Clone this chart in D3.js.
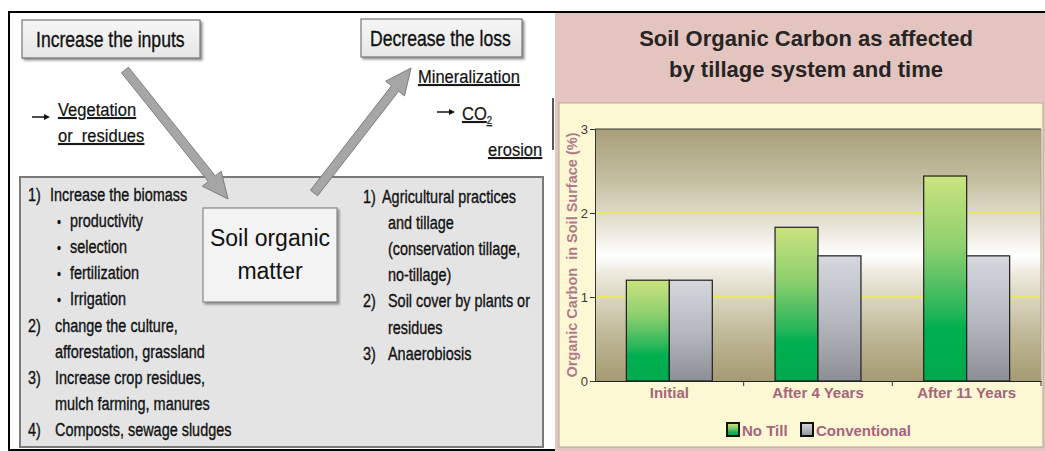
<!DOCTYPE html>
<html>
<head>
<meta charset="utf-8">
<script src="https://cdn.jsdelivr.net/npm/d3@7"></script>
<style>
  body { margin: 0; background: #ffffff; }
  svg { display: block; }
  text { font-family: "Liberation Sans", Arial, sans-serif; }
</style>
</head>
<body>
<script>
// bar chart values
var categories = ["Initial", "After 4 Years", "After 11 Years"];
var seriesNames = ["No Till", "Conventional"];
var noTill = [1.2, 1.83, 2.44];
var conventional = [1.2, 1.49, 1.49];
var yTicks = [0, 1, 2, 3];
var chartTitle = ["Soil Organic Carbon as affected", "by tillage system and time"];
var yTitle = "Organic Carbon  in Soil Surface (%)";

// diagram texts
var inputList = [
  ["1)", "Increase the biomass"],
  ["•", "productivity"],
  ["•", "selection"],
  ["•", "fertilization"],
  ["•", "Irrigation"],
  ["2)", "change the culture,"],
  ["", "afforestation, grassland"],
  ["3)", "Increase crop residues,"],
  ["", "mulch farming, manures"],
  ["4)", "Composts, sewage sludges"]
];
var lossList = [
  ["1)", "Agricultural practices"],
  ["", "and tillage"],
  ["", "(conservation tillage,"],
  ["", "no-tillage)"],
  ["2)", "Soil cover by plants or"],
  ["", "residues"],
  ["3)", "Anaerobiosis"]
];

var w = 1045
var h = 451
var plot = {left: 595, right: 1041, top: 129, bottom: 381}

var svg = d3.select("body")
            .append("svg")
            .attr("width", w)
            .attr("height", h)

var defs = svg.append("defs")

function gradient(id, stops) {
  var g = defs.append("linearGradient")
              .attr("id", id)
              .attr("x1", 0).attr("y1", 0)
              .attr("x2", 0).attr("y2", 1)
  stops.forEach(function(s) {
    g.append("stop").attr("offset", s[0]).attr("stop-color", s[1])
  })
}

gradient("plotbg", [[0, "#a79f78"], [0.2, "#c4bea0"], [0.42, "#eeece2"], [0.5, "#ffffff"],
                    [0.58, "#ebe8dc"], [0.8, "#c2bb9a"], [1, "#a49b72"]])
gradient("green", [[0, "#cbe37e"], [0.35, "#8dcf6e"], [0.68, "#20b458"], [0.74, "#00b050"], [1, "#00aa4c"]])
gradient("gray", [[0, "#d6d8de"], [0.5, "#b7b9c1"], [1, "#8d8f97"]])
gradient("boxfill", [[0, "#f6f6f6"], [1, "#e6e6e6"]])

var shadow = defs.append("filter").attr("id", "shadow")
                 .attr("x", "-10%").attr("y", "-10%").attr("width", "130%").attr("height", "140%")
shadow.append("feDropShadow").attr("dx", 2).attr("dy", 2)
      .attr("stdDeviation", 1.2).attr("flood-color", "#666").attr("flood-opacity", 0.7)

drawDiagram()
drawChart()

function arrowPath(x1, y1, x2, y2, shaft, head, headLen) {
  /* thick block arrow from (x1,y1) with its tip at (x2,y2) */
  var dx = x2 - x1, dy = y2 - y1
  var len = Math.sqrt(dx * dx + dy * dy)
  var ux = dx / len, uy = dy / len
  var px = -uy, py = ux
  var bx = x2 - ux * headLen, by = y2 - uy * headLen
  var pts = [
    [x1 + px * shaft / 2, y1 + py * shaft / 2],
    [bx + px * shaft / 2, by + py * shaft / 2],
    [bx + px * head / 2, by + py * head / 2],
    [x2, y2],
    [bx - px * head / 2, by - py * head / 2],
    [bx - px * shaft / 2, by - py * shaft / 2],
    [x1 - px * shaft / 2, y1 - py * shaft / 2]
  ]
  return "M" + pts.map(function(p) { return p[0].toFixed(1) + "," + p[1].toFixed(1) }).join("L") + "Z"
}

function narrowText(g, x, y, txt, size, sx) {
  /* condensed looking text: normal font squeezed horizontally */
  return g.append("text")
          .attr("transform", "translate(" + x + "," + y + ") scale(" + sx + ",1)")
          .style("font-size", size + "px")
          .attr("fill", "#111")
          .attr("stroke", "#111")
          .attr("stroke-width", 0.35)
          .text(txt)
}

function drawDiagram() {
  var g = svg.append("g")

  // frame lines
  g.append("line").attr("x1", 8).attr("x2", w).attr("y1", 12).attr("y2", 12)
   .attr("stroke", "#000").attr("stroke-width", 2)
  g.append("line").attr("x1", 9).attr("x2", 9).attr("y1", 12).attr("y2", h)
   .attr("stroke", "#000").attr("stroke-width", 2)
  g.append("line").attr("x1", 8).attr("x2", 555).attr("y1", 450).attr("y2", 450)
   .attr("stroke", "#000").attr("stroke-width", 2)
  g.append("line").attr("x1", 553).attr("x2", 553).attr("y1", 98).attr("y2", 150)
   .attr("stroke", "#222").attr("stroke-width", 1.5)

  // big gray box
  g.append("rect").attr("x", 20).attr("y", 177).attr("width", 523).attr("height", 270)
   .attr("fill", "#e4e4e4").attr("stroke", "#7a7a7a").attr("stroke-width", 2)

  // header boxes
  var heads = [
    {x: 22, y: 20, w: 178, h: 38, t: "Increase the inputs", tx: 36},
    {x: 361, y: 19, w: 161, h: 38, t: "Decrease the loss", tx: 370}
  ]
  heads.forEach(function(b) {
    g.append("rect").attr("x", b.x).attr("y", b.y).attr("width", b.w).attr("height", b.h)
     .attr("fill", "url(#boxfill)").attr("stroke", "#777").attr("stroke-width", 1.2)
     .attr("filter", "url(#shadow)")
    narrowText(g, b.tx, b.y + 27, b.t, 22, 0.8)
  })

  // block arrows
  g.append("path").attr("d", arrowPath(125, 70, 228, 199, 9, 24, 26))
   .attr("fill", "#a6a6a6").attr("stroke", "#7d7d7d").attr("stroke-width", 1)
  g.append("path").attr("d", arrowPath(314, 193, 411, 68, 9, 24, 26))
   .attr("fill", "#a6a6a6").attr("stroke", "#7d7d7d").attr("stroke-width", 1)

  // soil organic matter box
  g.append("rect").attr("x", 203).attr("y", 208).attr("width", 134).attr("height", 94)
   .attr("fill", "#f3f3f3").attr("stroke", "#888").attr("stroke-width", 1.2)
   .attr("filter", "url(#shadow)")
  g.append("text").attr("x", 270).attr("y", 246).attr("text-anchor", "middle")
   .style("font-size", "23px").attr("fill", "#111").text("Soil organic")
  g.append("text").attr("x", 270).attr("y", 279).attr("text-anchor", "middle")
   .style("font-size", "23px").attr("fill", "#111").text("matter")

  // side notes
  function smallArrow(x1, x2, y) {
    g.append("line").attr("x1", x1).attr("x2", x2 - 4).attr("y1", y).attr("y2", y)
     .attr("stroke", "#111").attr("stroke-width", 1.5)
    g.append("path").attr("d", "M" + (x2 - 6) + "," + (y - 3) + "L" + x2 + "," + y + "L" + (x2 - 6) + "," + (y + 3) + "Z")
     .attr("fill", "#111")
  }
  smallArrow(32, 50, 117)
  smallArrow(437, 455, 112)

  var notes = [
    {x: 58, y: 116, t: "Vegetation"},
    {x: 58, y: 142, t: "or  residues"},
    {x: 418, y: 83, t: "Mineralization"},
    {x: 488, y: 156, t: "erosion"}
  ]
  notes.forEach(function(n) {
    narrowText(g, n.x, n.y, n.t, 19, 0.87)
      .attr("stroke-width", 0.2)
      .style("text-decoration", "underline")
      .style("white-space", "pre")
  })
  var co2 = narrowText(g, 462, 120, "", 19, 0.87).attr("stroke-width", 0.2)
              .style("text-decoration", "underline")
  co2.append("tspan").text("CO")
  co2.append("tspan").attr("dy", 4).style("font-size", "11px").text("2")

  // left list
  inputList.forEach(function(d, i) {
    var y = 201 + i * 26.1
    var bullet = d[0] === "•"
    if (d[0] !== "") {
      narrowText(g, bullet ? 57 : 28, y, d[0], bullet ? 15 : 19, 0.76)
    }
    var tx = bullet ? 70 : (i === 0 ? 50 : 55)
    narrowText(g, tx, y, d[1], 19, 0.76)
  })

  // right list
  lossList.forEach(function(d, i) {
    var y = 203 + i * 26.1
    if (d[0] !== "") {
      narrowText(g, 363, y, d[0], 19, 0.76)
    }
    narrowText(g, i === 0 ? 382 : 388, y, d[1], 19, 0.76)
  })
}

function drawChart() {
  var g = svg.append("g")

  // panel backgrounds
  g.append("rect").attr("x", 555).attr("y", 13).attr("width", w - 555).attr("height", h - 13)
   .attr("fill", "#e4c4be")
  g.append("rect").attr("x", 559).attr("y", 103).attr("width", w - 561).attr("height", 344)
   .attr("fill", "#fdf8d4").attr("stroke", "#b8a49a").attr("stroke-width", 1)

  // title
  g.selectAll(".title")
   .data(chartTitle)
   .enter()
   .append("text")
   .attr("class", "title")
   .attr("x", 806)
   .attr("y", function(d, i) { return 46 + i * 31 })
   .attr("text-anchor", "middle")
   .style("font-size", "22px")
   .style("font-weight", "bold")
   .attr("fill", "#262424")
   .text(function(d) { return d })

  // scales
  var x0 = d3.scaleBand()
             .domain(categories)
             .range([plot.left, plot.right])
  var x1 = d3.scaleBand()
             .domain(seriesNames)
             .range([0, x0.bandwidth()])
             .paddingOuter(0.73)
  var y = d3.scaleLinear()
            .domain([0, 3])
            .range([plot.bottom, plot.top])

  // plot background
  g.append("rect").attr("x", plot.left).attr("y", plot.top)
   .attr("width", plot.right - plot.left).attr("height", plot.bottom - plot.top)
   .attr("fill", "url(#plotbg)")

  // grid lines
  g.selectAll(".grid")
   .data(yTicks.filter(function(d) { return d > 0 && d < 3 }))
   .enter()
   .append("line")
   .attr("class", "grid")
   .attr("x1", plot.left).attr("x2", plot.right)
   .attr("y1", function(d) { return y(d) }).attr("y2", function(d) { return y(d) })
   .attr("stroke", "#e9e85e").attr("stroke-width", 2)

  // frame top and right
  g.append("line").attr("x1", plot.left).attr("x2", plot.right)
   .attr("y1", plot.top).attr("y2", plot.top).attr("stroke", "#3a3a30").attr("stroke-width", 1.2)
  g.append("line").attr("x1", plot.right).attr("x2", plot.right)
   .attr("y1", plot.top).attr("y2", plot.bottom).attr("stroke", "#9a9a94").attr("stroke-width", 1)

  // bars
  var rows = categories.map(function(c, i) {
    return {cat: c, values: [noTill[i], conventional[i]]}
  })
  var fills = ["url(#green)", "url(#gray)"]

  var groups = g.selectAll(".group")
                .data(rows)
                .enter()
                .append("g")
                .attr("class", "group")
                .attr("transform", function(d) { return "translate(" + x0(d.cat) + ",0)" })

  groups.selectAll("rect")
        .data(function(d) {
          return d.values.map(function(v, j) { return {name: seriesNames[j], value: v, j: j} })
        })
        .enter()
        .append("rect")
        .attr("x", function(d) { return x1(d.name) })
        .attr("y", function(d) { return y(d.value) })
        .attr("width", x1.bandwidth())
        .attr("height", function(d) { return y(0) - y(d.value) })
        .attr("fill", function(d) { return fills[d.j] })
        .attr("stroke", "#1e1e1e")
        .attr("stroke-width", 1.2)

  // y axis
  var yAxis = g.append("g")
               .attr("transform", "translate(" + plot.left + ",0)")
               .call(d3.axisLeft(y).tickValues(yTicks).tickSize(5).tickPadding(2).tickFormat(d3.format("d")))
  yAxis.select(".domain").attr("stroke", "#333")
  yAxis.selectAll(".tick line").attr("stroke", "#333")
  yAxis.selectAll("text").attr("fill", "#3a3a3a").style("font-size", "13px")
       .style("font-family", "'Liberation Sans', Arial, sans-serif")

  // x axis
  var xAxis = g.append("g")
               .attr("transform", "translate(0," + plot.bottom + ")")
               .call(d3.axisBottom(x0).tickSize(0).tickPadding(6))
  xAxis.select(".domain").attr("stroke", "#222").attr("stroke-width", 1.2)
  xAxis.selectAll("text").attr("fill", "#a5647c").style("font-size", "15px")
       .style("font-weight", "bold").style("font-family", "'Liberation Sans', Arial, sans-serif")

  g.selectAll(".xtick")
   .data(categories)
   .enter()
   .append("line")
   .attr("class", "xtick")
   .attr("x1", function(d) { return x0(d) + x0.step() })
   .attr("x2", function(d) { return x0(d) + x0.step() })
   .attr("y1", plot.bottom).attr("y2", plot.bottom + 5)
   .attr("stroke", "#333")

  // y title
  g.append("text")
   .attr("transform", "translate(577," + ((plot.top + plot.bottom) / 2) + ") rotate(-90)")
   .attr("text-anchor", "middle")
   .style("font-size", "14.5px")
   .style("font-weight", "bold")
   .attr("fill", "#b07a8c")
   .style("white-space", "pre")
   .text(yTitle)

  // legend
  var legendX = [727, 801]
  var legend = g.selectAll(".legend")
                .data(seriesNames)
                .enter()
                .append("g")
                .attr("class", "legend")
                .attr("transform", function(d, i) { return "translate(" + legendX[i] + ",423)" })
  legend.append("rect")
        .attr("width", 12).attr("height", 13)
        .attr("fill", function(d, i) { return fills[i] })
        .attr("stroke", "#111").attr("stroke-width", 2)
  legend.append("text")
        .attr("x", 15).attr("y", 13)
        .style("font-size", "15px")
        .style("font-weight", "bold")
        .attr("fill", "#a5647c")
        .text(function(d) { return d })
}
</script>
</body>
</html>
